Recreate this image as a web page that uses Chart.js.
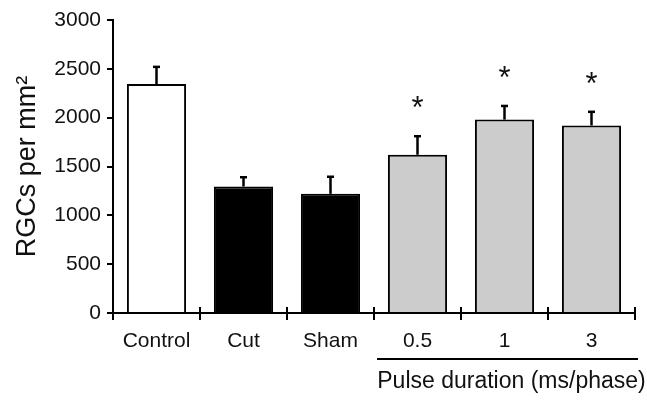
<!DOCTYPE html>
<html><head><meta charset="utf-8">
<script src="https://cdn.jsdelivr.net/npm/chart.js@4.4.0/dist/chart.umd.min.js"></script>
<style>html,body{margin:0;padding:0;background:#fff}#c{display:block}</style>
</head><body>
<canvas id="c" width="647" height="400"></canvas>
<script>
const categories = ['Control', 'Cut', 'Sham', '0.5', '1', '3'];
const meanValues = [2345, 1295, 1220, 1620, 1980, 1920];
const semValues = [175, 95, 175, 190, 140, 140];
const significant = [false, false, false, true, true, true];
const barColors = ['#ffffff', '#000000', '#000000', '#cccccc', '#cccccc', '#cccccc'];
const yTicks = [0, 500, 1000, 1500, 2000, 2500, 3000];
const yTitle = 'RGCs per mm²';
const groupLabel = 'Pulse duration (ms/phase)';
const groupStart = 3;

const FONT = "'Liberation Sans', Arial, Helvetica, sans-serif";
const TXT = '#111';

const decor = {
  id: 'decor',
  afterDatasetsDraw(chart) {
    const ctx = chart.ctx, xs = chart.scales.x, ys = chart.scales.y;
    const meta = chart.getDatasetMeta(0);
    ctx.save();
    ctx.strokeStyle = '#000';
    ctx.lineCap = 'butt';
    meta.data.forEach((bar, i) => {
      const base = ys.getPixelForValue(meanValues[i]);
      const top = ys.getPixelForValue(meanValues[i] + semValues[i]);
      ctx.lineWidth = 2.5;
      ctx.beginPath();
      ctx.moveTo(bar.x, base); ctx.lineTo(bar.x, top);
      ctx.stroke();
      ctx.beginPath();
      ctx.moveTo(bar.x - 3.5, top); ctx.lineTo(bar.x + 3.5, top);
      ctx.stroke();
      if (significant[i]) {
        ctx.fillStyle = TXT;
        ctx.font = '31px ' + FONT;
        ctx.textAlign = 'center';
        ctx.textBaseline = 'alphabetic';
        ctx.fillText('*', bar.x, top - 31 + 13);
      }
    });
    // category boundary ticks crossing the x axis
    const y0 = ys.getPixelForValue(0);
    ctx.lineWidth = 2;
    for (let i = 0; i <= categories.length; i++) {
      const px = xs.getPixelForValue(i - 0.5);
      ctx.beginPath();
      ctx.moveTo(px, y0 - 6); ctx.lineTo(px, y0 + 7);
      ctx.stroke();
    }
    // group line and label
    const gx0 = xs.getPixelForValue(groupStart - 0.5) + 3;
    const gx1 = xs.right + 3;
    ctx.lineWidth = 2;
    ctx.beginPath();
    ctx.moveTo(gx0, 359); ctx.lineTo(gx1, 359);
    ctx.stroke();
    ctx.fillStyle = TXT;
    ctx.font = '23px ' + FONT;
    ctx.textAlign = 'center';
    ctx.textBaseline = 'middle';
    ctx.fillText(groupLabel, (gx0 + gx1) / 2 + 4, 382);
    ctx.restore();
  }
};

new Chart(document.getElementById('c'), {
  type: 'bar',
  data: {
    labels: categories,
    datasets: [{
      data: meanValues,
      backgroundColor: barColors,
      borderColor: '#000',
      borderWidth: 2,
      borderSkipped: 'bottom',
      barPercentage: 0.68,
      categoryPercentage: 1.0
    }]
  },
  options: {
    responsive: false,
    animation: false,
    layout: { padding: { top: 20, right: 12, left: 0, bottom: 0 } },
    plugins: { legend: { display: false }, tooltip: { enabled: false } },
    scales: {
      x: {
        offset: true,
        grid: { display: false, drawTicks: false },
        border: { display: true, color: '#000', width: 2 },
        ticks: { color: TXT, font: { family: FONT, size: 21 }, padding: 16, maxRotation: 0 },
        afterFit(s) { s.height = 87; }
      },
      y: {
        min: 0, max: 3000,
        afterBuildTicks(s) { s.ticks = yTicks.map(v => ({ value: v })); },
        grid: { drawOnChartArea: false, drawTicks: true, tickLength: 6, color: '#000', lineWidth: 2 },
        border: { display: true, color: '#000', width: 2 },
        ticks: { color: TXT, font: { family: FONT, size: 21 }, padding: 6, callback: v => String(v) },
        title: { display: true, text: yTitle, color: TXT, font: { family: FONT, size: 27 }, padding: { top: 11, bottom: 0 } },
        afterFit(s) { s.width = 113; }
      }
    }
  },
  plugins: [decor]
});
</script>
</body></html>
